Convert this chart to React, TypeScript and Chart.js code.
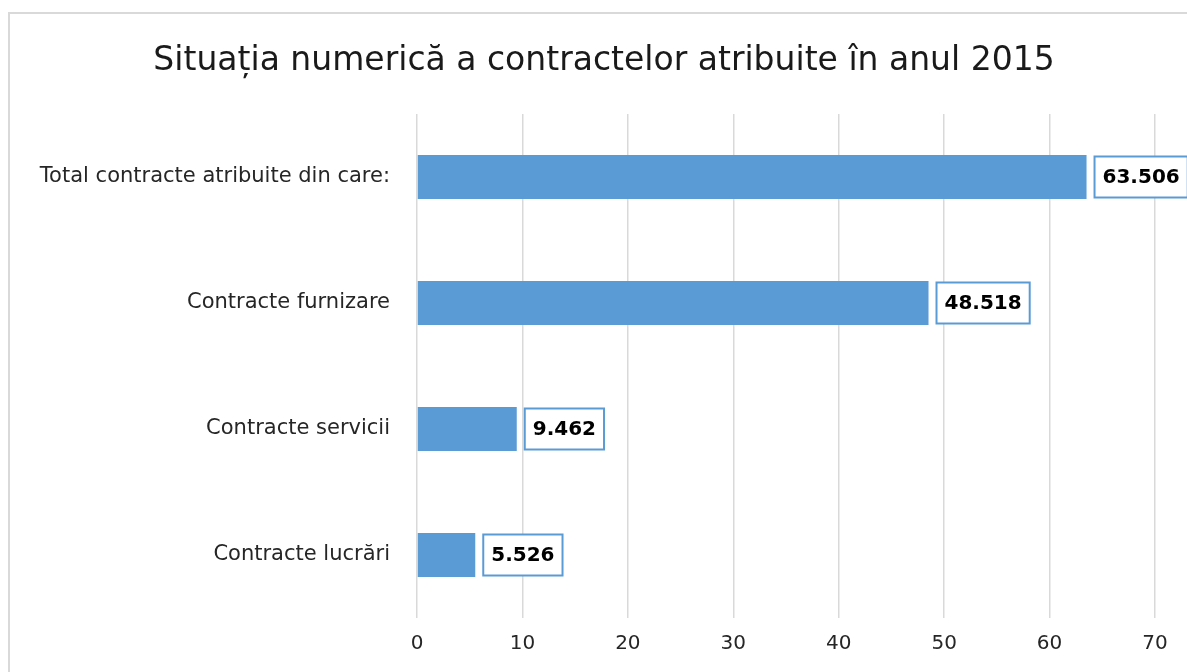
import React, { useEffect, useRef } from "react";
import { Chart, registerables } from "chart.js";

Chart.register(...registerables);

const TITLE = "Situația numerică a contractelor atribuite în anul 2015";
const categories = [
  "Total contracte atribuite din care:",
  "Contracte furnizare",
  "Contracte servicii",
  "Contracte lucrări",
];
const values = [63.506, 48.518, 9.462, 5.526];
const xTicks = [0, 10, 20, 30, 40, 50, 60, 70];

const FONT = "DejaVu Sans";
const BLUE = "#5b9bd5";

const frameAndLabels = {
  id: "frameAndLabels",
  beforeDraw(chart: any) {
    const ctx = chart.ctx;
    ctx.save();
    ctx.fillStyle = "#ffffff";
    ctx.fillRect(0, 0, chart.width, chart.height);
    ctx.strokeStyle = "#d9d9d9";
    ctx.lineWidth = 2;
    ctx.strokeRect(9, 13, chart.width + 20, chart.height + 20);
    ctx.font = `33px ${FONT}`;
    ctx.fillStyle = "#1a1a1a";
    ctx.textAlign = "center";
    ctx.textBaseline = "alphabetic";
    ctx.fillText(TITLE, 604, 70);
    ctx.restore();
  },
  afterDatasetsDraw(chart: any) {
    const ctx = chart.ctx;
    const meta = chart.getDatasetMeta(0);
    ctx.save();
    ctx.font = `bold 20px ${FONT}`;
    ctx.textBaseline = "middle";
    ctx.textAlign = "center";
    meta.data.forEach((bar: any, i: number) => {
      const txt = values[i].toFixed(3);
      const w = ctx.measureText(txt).width + 16;
      const h = 41;
      const x0 = bar.x + 8;
      const y0 = bar.y - h / 2;
      ctx.fillStyle = "#ffffff";
      ctx.fillRect(x0, y0, w, h);
      ctx.strokeStyle = BLUE;
      ctx.lineWidth = 2;
      ctx.strokeRect(x0, y0, w, h);
      ctx.fillStyle = "#000000";
      ctx.fillText(txt, x0 + w / 2, bar.y + 1);
    });
    ctx.restore();
  },
};

export default function App() {
  const ref = useRef<HTMLCanvasElement | null>(null);
  useEffect(() => {
    if (!ref.current) return;
    Chart.defaults.font.family = FONT;
    const chart = new Chart(ref.current, {
      type: "bar",
      data: {
        labels: categories,
        datasets: [
          {
            data: values,
            backgroundColor: BLUE,
            borderWidth: 0,
            barPercentage: 0.35,
            categoryPercentage: 1,
          },
        ],
      },
      options: {
        indexAxis: "y",
        responsive: false,
        animation: false,
        layout: { padding: { top: 114, right: 32, bottom: 0, left: 0 } },
        plugins: {
          legend: { display: false },
          tooltip: { enabled: false },
          title: { display: false },
        },
        scales: {
          x: {
            min: 0,
            max: 70,
            afterBuildTicks(scale: any) {
              scale.ticks = xTicks.map((v) => ({ value: v }));
            },
            afterFit(scale: any) {
              scale.height = 54;
            },
            grid: { color: "#d9d9d9", lineWidth: 1.5, drawTicks: false },
            border: { display: false },
            ticks: { color: "#262626", font: { size: 20 }, padding: 14 },
          },
          y: {
            afterFit(scale: any) {
              scale.width = 417;
            },
            grid: { display: false, drawTicks: false },
            border: { display: false },
            ticks: { color: "#262626", font: { size: 21 }, padding: 27 },
          },
        },
      },
      plugins: [frameAndLabels],
    });
    return () => chart.destroy();
  }, []);
  return (
    <div style={{ position: "fixed", left: 0, top: 0, width: 1187, height: 672, background: "#fff" }}>
      <canvas ref={ref} width={1187} height={672} style={{ display: "block" }} />
    </div>
  );
}
